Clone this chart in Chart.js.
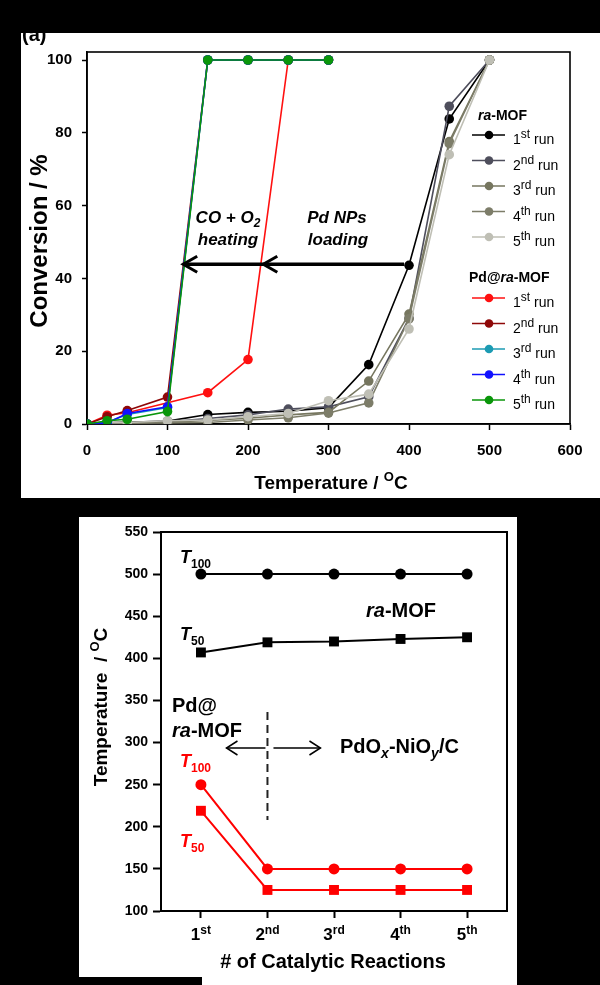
<!DOCTYPE html>
<html>
<head>
<meta charset="utf-8">
<script src="https://cdn.jsdelivr.net/npm/chart.js@4.4.0/dist/chart.umd.min.js"></script>
<style>
  body { margin: 0; background: #000; }
  #wrap { position: relative; width: 600px; height: 985px; background: #000; overflow: hidden; }
  .panel { position: absolute; background: #fff; }
  #p1 { left: 21px; top: 33px; width: 579px; height: 465px; }
  #p2 { left: 79px; top: 517px; width: 438px; height: 468px; }
  #notch { position: absolute; left: 79px; top: 977px; width: 123px; height: 8px; background: #000; }
  canvas { display: block; }
</style>
</head>
<body>
<div id="wrap">
  <div class="panel" id="p1"><canvas id="convChart" width="579" height="465"></canvas></div>
  <div class="panel" id="p2"><canvas id="tempChart" width="438" height="468"></canvas></div>
  <div id="notch"></div>
</div>
<script>
// (a) conversion vs temperature
const tempsRa = [0, 25, 50, 100, 150, 200, 250, 300, 350, 400, 450, 500];
const raRun1 = [0, 0.3, 0.5, 0.8, 2.6, 3.2, 3.5, 4.5, 16.3, 43.6, 83.8, 100];
const raRun2 = [0, 0.2, 0.4, 0.6, 1.5, 2.5, 4.1, 4.7, 7.5, 29.0, 87.3, 100];
const raRun3 = [0, 0.3, 0.5, 0.5, 1.0, 1.6, 2.5, 3.2, 11.8, 30.2, 77.6, 100];
const raRun4 = [0, 0.1, 0.2, 0.3, 0.4, 1.1, 1.7, 3.0, 5.8, 28.9, 77.0, 100];
const raRun5 = [0, 0.4, 0.4, 0.9, 1.1, 2.0, 2.9, 6.4, 8.2, 26.1, 74.0, 100];

const tempsPd = [0, 25, 50, 100, 150, 200, 250, 300];
const pdRun1 = [0, 2.4, 3.1, null, 8.6, 17.7, 100, 100];
const pdRun2 = [0, 2.0, 3.7, 7.4, 100, 100, 100, 100];
const pdRun3 = [0, 0.5, 2.6, 4.5, 100, 100, 100, 100];
const pdRun4 = [0, 0.3, 2.9, 4.7, 100, 100, 100, 100];
const pdRun5 = [0, 0.9, 1.3, 3.4, 100, 100, 100, 100];

const xTicksTop = [0, 100, 200, 300, 400, 500, 600];
const yTicksTop = [0, 20, 40, 60, 80, 100];

const runNum = ['1', '2', '3', '4', '5'];
const runSup = ['st', 'nd', 'rd', 'th', 'th'];
const raColors = ['#000000', '#4e4e5c', '#76765f', '#7d7d69', '#bfbfb5'];
const pdColors = ['#ff1010', '#8e0808', '#1c9bb3', '#1010ff', '#0a960a'];

// (b) T50 / T100 vs reaction number
const reactions = [1, 2, 3, 4, 5];
const raT100 = [500, 500, 500, 500, 500];
const raT50 = [407, 419, 420, 423, 425];
const pdT100 = [250, 150, 150, 150, 150];
const pdT50 = [219, 125, 125, 125, 125];
const yTicksBottom = [100, 150, 200, 250, 300, 350, 400, 450, 500, 550];

const F = '"Liberation Sans", Arial, sans-serif';

const pts = (xs, ys) => xs.map((x, i) => ({ x: x, y: ys[i] }));

// draw a run of text pieces: [text, font, dy]
function richText(ctx, x, y, parts, align) {
  let w = 0;
  parts.forEach(p => { ctx.font = p[1]; w += ctx.measureText(p[0]).width; });
  let cx = align === 'center' ? x - w / 2 : (align === 'right' ? x - w : x);
  ctx.textAlign = 'left';
  ctx.textBaseline = 'alphabetic';
  parts.forEach(p => {
    ctx.font = p[1];
    ctx.fillText(p[0], cx, y + (p[2] || 0));
    cx += ctx.measureText(p[0]).width;
  });
}

function arrowHead(ctx, x, y, dir, len, half) {
  ctx.beginPath();
  ctx.moveTo(x - dir * len, y - half);
  ctx.lineTo(x, y);
  ctx.lineTo(x - dir * len, y + half);
  ctx.stroke();
}

function frame(chart, w) {
  const a = chart.chartArea, ctx = chart.ctx;
  ctx.save();
  ctx.strokeStyle = '#000';
  ctx.lineWidth = w;
  ctx.strokeRect(a.left, a.top, a.right - a.left, a.bottom - a.top);
  ctx.restore();
}

function runSet(xs, ys, color, order) {
  return {
    data: pts(xs, ys),
    borderColor: color,
    backgroundColor: color,
    borderWidth: 1.6,
    pointRadius: 4.8,
    pointHoverRadius: 4.8,
    pointBorderWidth: 0,
    spanGaps: true,
    tension: 0,
    order: order
  };
}

const raRuns = [raRun1, raRun2, raRun3, raRun4, raRun5];
const pdRuns = [pdRun1, pdRun2, pdRun3, pdRun4, pdRun5];
const topSets = [];
raRuns.forEach((r, i) => topSets.push(runSet(tempsRa, r, raColors[i], 20 - i)));
pdRuns.forEach((r, i) => topSets.push(runSet(tempsPd, r, pdColors[i], 10 - i)));

const convPlugin = {
  id: 'convText',
  beforeDatasetsDraw(chart) { frame(chart, 1.6); },
  afterDraw(chart) {
    const ctx = chart.ctx;
    const xs = chart.scales.x, ys = chart.scales.y;
    ctx.save();
    ctx.fillStyle = '#000';

    richText(ctx, 1, 8, [['(a)', 'bold 20px ' + F]]);

    // axis titles
    richText(ctx, 310, 456, [['Temperature / ', 'bold 19px ' + F], ['O', 'bold 13px ' + F, -8], ['C', 'bold 19px ' + F]], 'center');
    ctx.save();
    ctx.translate(26, 208);
    ctx.rotate(-Math.PI / 2);
    richText(ctx, 0, 0, [['Conversion / %', 'bold 24px ' + F]], 'center');
    ctx.restore();

    // annotation text
    const bi = 'italic bold 17px ' + F;
    richText(ctx, 207, 190, [['CO + O', bi], ['2', 'italic bold 12px ' + F, 4]], 'center');
    richText(ctx, 207, 212, [['heating', bi]], 'center');
    richText(ctx, 316, 190, [['Pd NPs', bi]], 'center');
    richText(ctx, 317, 212, [['loading', bi]], 'center');

    // arrow at the T50 level of the first ra-MOF run
    const ay = ys.getPixelForValue(43.9);
    ctx.strokeStyle = '#000';
    ctx.lineWidth = 3.5;
    ctx.beginPath();
    ctx.moveTo(xs.getPixelForValue(400) - 5, ay);
    ctx.lineTo(xs.getPixelForValue(119.5), ay);
    ctx.stroke();
    ctx.lineWidth = 3;
    arrowHead(ctx, xs.getPixelForValue(119.5), ay, -1, 14, 8);
    arrowHead(ctx, xs.getPixelForValue(219), ay, -1, 14, 8);

    // legend
    const drawGroup = (titleParts, tx, ty, colors, y0) => {
      richText(ctx, tx, ty, titleParts);
      colors.forEach((c, i) => {
        const y = y0 + i * 25.5;
        ctx.strokeStyle = c;
        ctx.fillStyle = c;
        ctx.lineWidth = 1.6;
        ctx.beginPath();
        ctx.moveTo(451, y);
        ctx.lineTo(484, y);
        ctx.stroke();
        ctx.beginPath();
        ctx.arc(468, y, 4.3, 0, Math.PI * 2);
        ctx.fill();
        ctx.fillStyle = '#000';
        richText(ctx, 492, y + 9, [[runNum[i], '14px ' + F], [runSup[i], '12px ' + F, -6], [' run', '14px ' + F]]);
      });
    };
    drawGroup([['ra', 'italic bold 14px ' + F], ['-MOF', 'bold 14px ' + F]], 457, 87, raColors, 102);
    ctx.fillStyle = '#000';
    drawGroup([['Pd@', 'bold 14px ' + F], ['ra', 'italic bold 14px ' + F], ['-MOF', 'bold 14px ' + F]], 448, 249, pdColors, 265);
    ctx.restore();
  }
};

new Chart(document.getElementById('convChart').getContext('2d'), {
  type: 'line',
  data: { datasets: topSets },
  options: {
    responsive: false,
    animation: false,
    layout: { padding: { top: 17, right: 30, left: 0, bottom: 0 } },
    plugins: { legend: { display: false }, tooltip: { enabled: false } },
    scales: {
      x: {
        type: 'linear', min: 0, max: 600,
        afterBuildTicks: s => { s.ticks = xTicksTop.map(v => ({ value: v })); },
        afterFit: s => { s.height = 74; },
        grid: { drawOnChartArea: false, tickLength: 6, tickColor: '#000', tickWidth: 1.5 },
        border: { color: '#000', width: 1.6 },
        ticks: { color: '#000', padding: 12, maxRotation: 0, font: { family: F, size: 15, weight: 'bold' } }
      },
      y: {
        type: 'linear', min: 0, max: 102.2,
        afterBuildTicks: s => { s.ticks = yTicksTop.map(v => ({ value: v })); },
        afterFit: s => { s.width = 66; },
        grid: { drawOnChartArea: false, tickLength: 5, tickColor: '#000', tickWidth: 1.5 },
        border: { color: '#000', width: 1.6 },
        ticks: { color: '#000', padding: 10, font: { family: F, size: 15, weight: 'bold' } }
      }
    }
  },
  plugins: [convPlugin]
});

// bottom chart
function tSet(ys, color, style, radius) {
  return {
    data: pts(reactions, ys),
    borderColor: color,
    backgroundColor: color,
    borderWidth: 2,
    pointStyle: style,
    pointRadius: radius,
    pointHoverRadius: radius,
    pointBorderWidth: 0,
    tension: 0
  };
}

const tempPlugin = {
  id: 'tempText',
  beforeDatasetsDraw(chart) { frame(chart, 2); },
  afterDraw(chart) {
    const ctx = chart.ctx;
    const xs = chart.scales.x;
    ctx.save();
    ctx.fillStyle = '#000';

    // x tick labels with ordinal superscripts
    reactions.forEach((v, i) => {
      richText(ctx, xs.getPixelForValue(v), 423, [[runNum[i], 'bold 17px ' + F], [runSup[i], 'bold 12px ' + F, -6]], 'center');
    });

    richText(ctx, 254, 451, [['# of Catalytic Reactions', 'bold 20px ' + F]], 'center');
    ctx.save();
    ctx.translate(28, 190);
    ctx.rotate(-Math.PI / 2);
    richText(ctx, 0, 0, [['Temperature  / ', 'bold 19px ' + F], ['O', 'bold 13px ' + F, -8], ['C', 'bold 19px ' + F]], 'center');
    ctx.restore();

    const tI = 'italic bold 18px ' + F, sub = 'bold 12px ' + F;
    const big = 'bold 20px ' + F, bigI = 'italic bold 20px ' + F;
    richText(ctx, 101, 46, [['T', tI], ['100', sub, 5]]);
    richText(ctx, 101, 123, [['T', tI], ['50', sub, 5]]);
    richText(ctx, 287, 100, [['ra', bigI], ['-MOF', big]]);
    richText(ctx, 93, 195, [['Pd@', big]]);
    richText(ctx, 93, 220, [['ra', bigI], ['-MOF', big]]);
    richText(ctx, 261, 236, [['PdO', big], ['x', 'italic bold 14px ' + F, 5], ['-NiO', big], ['y', 'italic bold 14px ' + F, 5], ['/C', big]]);

    ctx.fillStyle = '#ff0000';
    richText(ctx, 101, 250, [['T', tI], ['100', sub, 5]]);
    richText(ctx, 101, 330, [['T', tI], ['50', sub, 5]]);

    // divider and arrows
    const dx = xs.getPixelForValue(2);
    ctx.strokeStyle = '#222';
    ctx.lineWidth = 2;
    ctx.setLineDash([8, 5]);
    ctx.beginPath();
    ctx.moveTo(dx, 195);
    ctx.lineTo(dx, 303);
    ctx.stroke();
    ctx.setLineDash([]);
    ctx.lineWidth = 1.5;
    ctx.strokeStyle = '#000';
    ctx.beginPath();
    ctx.moveTo(dx - 2, 231);
    ctx.lineTo(dx - 41, 231);
    ctx.moveTo(dx + 6, 231);
    ctx.lineTo(dx + 53, 231);
    ctx.stroke();
    arrowHead(ctx, dx - 41, 231, -1, 11, 7);
    arrowHead(ctx, dx + 53, 231, 1, 11, 7);
    ctx.restore();
  }
};

new Chart(document.getElementById('tempChart').getContext('2d'), {
  type: 'line',
  data: {
    datasets: [
      tSet(raT100, '#000000', 'circle', 5.5),
      tSet(raT50, '#000000', 'rect', 7),
      tSet(pdT100, '#ff0000', 'circle', 5.5),
      tSet(pdT50, '#ff0000', 'rect', 7)
    ]
  },
  options: {
    responsive: false,
    animation: false,
    layout: { padding: { top: 15, right: 10, left: 0, bottom: 0 } },
    plugins: { legend: { display: false }, tooltip: { enabled: false } },
    scales: {
      x: {
        type: 'linear', min: 0.4, max: 5.6,
        afterBuildTicks: s => { s.ticks = reactions.map(v => ({ value: v })); },
        afterFit: s => { s.height = 74; },
        grid: { drawOnChartArea: false, tickLength: 7, tickColor: '#000', tickWidth: 2 },
        border: { color: '#000', width: 2 },
        ticks: { callback: () => '', padding: 0 }
      },
      y: {
        type: 'linear', min: 100, max: 550,
        afterBuildTicks: s => { s.ticks = yTicksBottom.map(v => ({ value: v })); },
        afterFit: s => { s.width = 82; },
        grid: { drawOnChartArea: false, tickLength: 8, tickColor: '#000', tickWidth: 2 },
        border: { color: '#000', width: 2 },
        ticks: { color: '#000', padding: 5, font: { family: F, size: 14, weight: 'bold' } }
      }
    }
  },
  plugins: [tempPlugin]
});
</script>
</body>
</html>
